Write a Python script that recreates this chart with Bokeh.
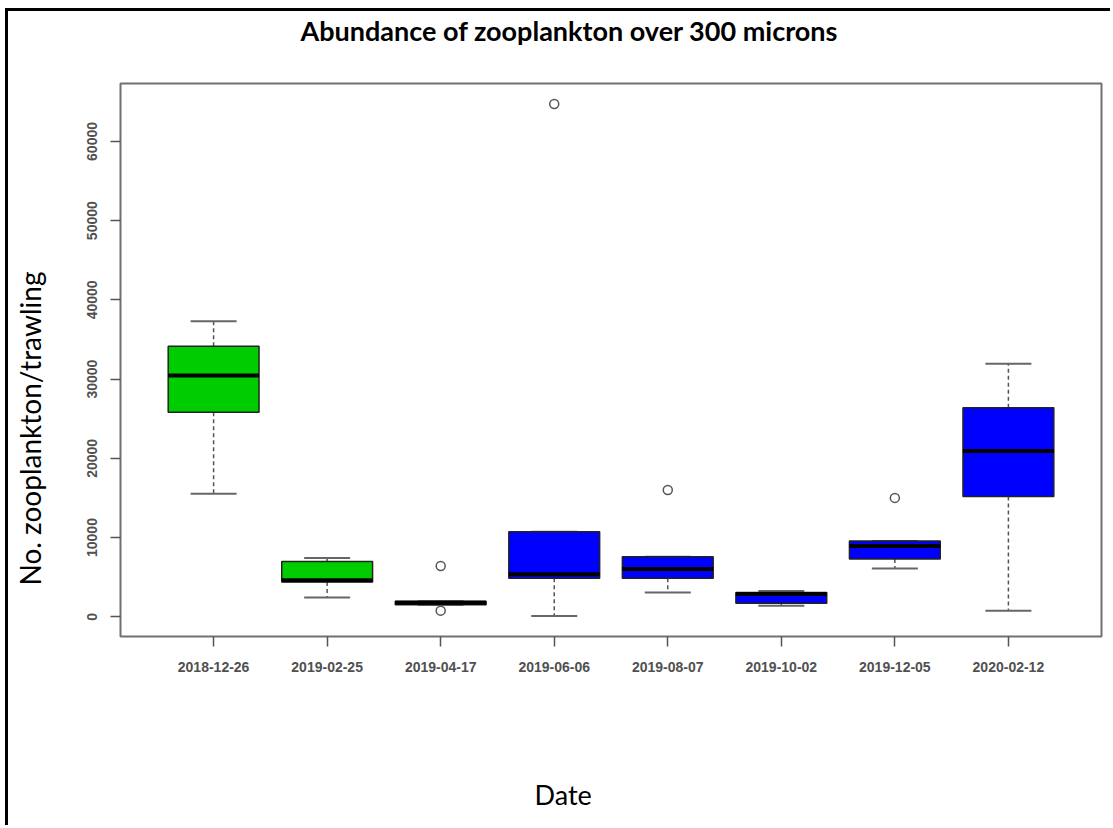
from bokeh.plotting import figure
from bokeh.models import Range1d, FixedTicker, Title, ColumnDataSource
from bokeh.embed import file_html
from bokeh.resources import INLINE

# ---------------- data ----------------
dates = ["2018-12-26", "2019-02-25", "2019-04-17", "2019-06-06",
         "2019-08-07", "2019-10-02", "2019-12-05", "2020-02-12"]
whisker_low = [15540, 2430, 1500, 90, 3060, 1400, 6080, 770]
q1 = [25810, 4370, 1500, 4860, 4860, 1710, 7300, 15170]
median = [30450, 4600, 1760, 5360, 6040, 2880, 8920, 20925]
q3 = [34140, 6980, 1950, 10720, 7570, 3060, 9550, 26380]
whisker_high = [37300, 7430, 1950, 10720, 7570, 3240, 9550, 31930]
box_colors = ["#00CD00", "#00CD00", "#0000FF", "#0000FF",
              "#0000FF", "#0000FF", "#0000FF", "#0000FF"]
outlier_dates = ["2019-04-17", "2019-04-17", "2019-06-06", "2019-08-07", "2019-12-05"]
outlier_values = [6400, 770, 64730, 15990, 15000]
y_ticks = [0, 10000, 20000, 30000, 40000, 50000, 60000]

title_text = "Abundance of zooplankton over 300 microns"
x_title = "Date"
y_title = "No. zooplankton/trawling"

# ---------------- layout ----------------
pos = list(range(1, len(dates) + 1))
pos_of = {d: i + 1 for i, d in enumerate(dates)}
outlier_pos = [pos_of[d] for d in outlier_dates]

lo = min(min(whisker_low), min(outlier_values))
hi = max(max(whisker_high), max(outlier_values))
pad = 0.04 * (hi - lo)
y0, y1 = lo - pad, hi + pad
xpad = 0.04 * len(dates)
x0, x1 = 0.5 - xpad, len(dates) + 0.5 + xpad

# page-pixel frame of the reference
FL, FR, FT, FB = 120, 1101, 82, 636
OX, OY = 8, 11  # canvas offset caused by the outer border

W, H = 1113 - OX, 828 - OY
p = figure(width=W, height=H, output_backend="svg", toolbar_location=None,
           x_range=Range1d(x0, x1), y_range=Range1d(y0, y1),
           min_border_left=FL - OX, min_border_right=W - (FR - OX),
           min_border_top=FT - OY, min_border_bottom=H - (FB - OY))
p.styles = {"margin-left": "5px", "margin-top": "8px",
            "border-left": "3px solid black", "border-top": "3px solid black"}

p.background_fill_color = "white"
p.border_fill_color = "white"
p.outline_line_color = "#707070"
p.outline_line_width = 2
p.grid.visible = False

for ax in (p.xaxis[0], p.yaxis[0]):
    ax.axis_line_color = None
    ax.major_tick_line_color = "#555555"
    ax.major_tick_line_width = 1.5
    ax.major_tick_out = 10
    ax.major_tick_in = 0
    ax.minor_tick_line_color = None
    ax.major_label_text_font = "Liberation Sans"
    ax.major_label_text_font_size = "14px"
    ax.major_label_text_font_style = "bold"
    ax.major_label_text_color = "#505050"

p.xaxis.ticker = FixedTicker(ticks=pos)
p.xaxis.major_label_overrides = {i: d for i, d in zip(pos, dates)}
p.xaxis.major_label_standoff = 15
p.yaxis.ticker = FixedTicker(ticks=y_ticks)
p.yaxis.major_label_orientation = "vertical"
p.yaxis.major_label_standoff = 13

src = ColumnDataSource(dict(x=pos, wl=whisker_low, q1=q1, med=median,
                            q3=q3, wh=whisker_high, color=box_colors))

# whiskers (dashed)
p.segment(x0="x", y0="q3", x1="x", y1="wh", source=src,
          line_color="#555555", line_width=1.5, line_dash="4 3")
p.segment(x0="x", y0="q1", x1="x", y1="wl", source=src,
          line_color="#555555", line_width=1.5, line_dash="4 3")
# caps
p.scatter(x="x", y="wh", source=src, marker="dash", size=46,
          line_color="#666666", line_width=2)
p.scatter(x="x", y="wl", source=src, marker="dash", size=46,
          line_color="#666666", line_width=2)
# boxes
p.vbar(x="x", width=0.8, top="q3", bottom="q1", source=src,
       fill_color="color", line_color="#222222", line_width=1.5)
# medians
p.rect(x="x", y="med", width=0.8, height=4, height_units="screen",
       source=src, fill_color="black", line_color=None)
# outliers
p.scatter(x=outlier_pos, y=outlier_values, marker="circle", size=9,
          fill_color=None, line_color="#555555", line_width=1.5)

# texts (extra blank lines reserve room so the text sits away from the frame)
p.title.text = title_text + "\n"
p.title.text_font = "Lato"
p.title.text_font_style = "bold"
p.title.text_font_size = "27px"
p.title.text_color = "black"
p.title.align = "left"
p.title.offset = 300 - FL
p.title.vertical_align = "top"
p.title.standoff = 4

p.add_layout(Title(text="\n\n\n" + x_title, text_font="Lato", text_font_style="normal",
                   text_font_size="27px", text_color="black",
                   align="left", offset=534 - FL,
                   vertical_align="bottom", standoff=4), "below")
p.add_layout(Title(text=y_title + "\n", text_font="Lato", text_font_style="normal",
                   text_font_size="28px", text_color="black",
                   align="left", offset=FB - 585,
                   vertical_align="top", standoff=4), "left")

open("out.html", "w").write(file_html(p, INLINE))
